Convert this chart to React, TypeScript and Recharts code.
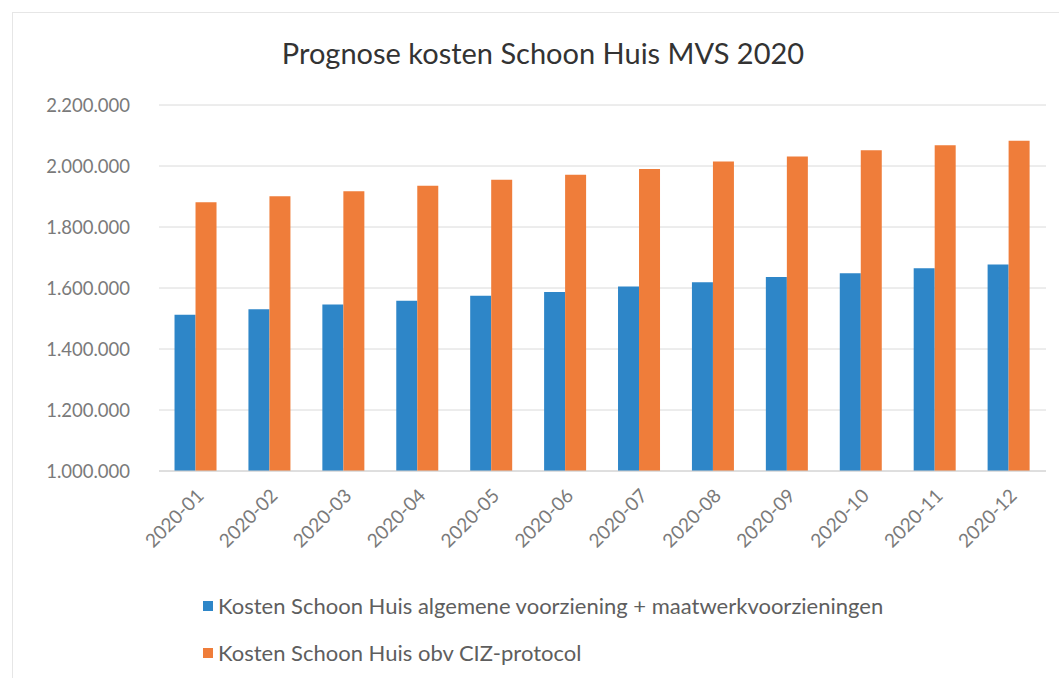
import React from "react";
import { BarChart, Bar, XAxis, YAxis, CartesianGrid, Legend } from "recharts";

const months = [
  "2020-01", "2020-02", "2020-03", "2020-04", "2020-05", "2020-06",
  "2020-07", "2020-08", "2020-09", "2020-10", "2020-11", "2020-12",
];
const algemeen = [
  1512000, 1530000, 1546000, 1558000, 1575000, 1587000,
  1605000, 1619000, 1636000, 1648000, 1665000, 1677000,
];
const ciz = [
  1881000, 1901000, 1917000, 1935000, 1955000, 1971000,
  1990000, 2015000, 2031000, 2052000, 2068000, 2083000,
];
const yTicks = [1000000, 1200000, 1400000, 1600000, 1800000, 2000000, 2200000];

const SERIES_A = "Kosten Schoon Huis algemene voorziening + maatwerkvoorzieningen";
const SERIES_B = "Kosten Schoon Huis obv CIZ-protocol";

const data = months.map((m, i) => ({ month: m, a: algemeen[i], b: ciz[i] }));

const FONT = "Lato, 'Open Sans', sans-serif";
const fmt = (v: number) => v.toLocaleString("nl-NL");

function MonthTick(props: any) {
  const { x, y, payload } = props;
  const tx = x + 9;
  const ty = y + 18;
  return (
    <text
      x={tx}
      y={ty}
      transform={`rotate(-45 ${tx} ${ty})`}
      textAnchor="end"
      fill="#7a7a7a"
      fontSize={19}
      fontFamily={FONT}
    >
      {payload.value}
    </text>
  );
}

function LegendBox(props: any) {
  const items = props.payload || [];
  return (
    <div style={{ fontFamily: FONT, fontSize: 22, color: "#5e5e5e" }}>
      {items.map((it: any) => (
        <div key={it.value} style={{ display: "flex", alignItems: "center", height: 47 }}>
          <span style={{ width: 10, height: 10, background: it.color, marginRight: 5 }} />
          <span>{it.value}</span>
        </div>
      ))}
    </div>
  );
}

export default function App() {
  return (
    <div style={{ position: "absolute", left: 0, top: 0, width: 1059, height: 678, background: "#fff" }}>
      <div
        style={{
          position: "absolute", left: 12, top: 12, width: 1047, height: 666,
          borderLeft: "1px solid #e6e6e6", borderTop: "1px solid #e6e6e6",
        }}
      />
      <div
        style={{
          position: "absolute", left: 0, top: 35, width: 1086, textAlign: "center",
          fontFamily: FONT, fontSize: 29, color: "#333",
        }}
      >
        Prognose kosten Schoon Huis MVS 2020
      </div>
      <BarChart
        width={1059}
        height={678}
        data={data}
        margin={{ top: 105, right: 13, left: 0, bottom: 107 }}
        barCategoryGap="21%"
        barGap={0}
        style={{ position: "absolute", left: 0, top: 0 }}
      >
        <CartesianGrid vertical={false} stroke="#dadada" />
        <XAxis
          dataKey="month"
          height={100}
          interval={0}
          tick={<MonthTick />}
          tickLine={false}
          axisLine={{ stroke: "#d0d0d0" }}
        />
        <YAxis
          width={159}
          domain={[1000000, 2200000]}
          ticks={yTicks}
          tickFormatter={fmt}
          axisLine={false}
          tickLine={false}
          tickSize={0}
          tickMargin={29}
          tick={{ fill: "#7a7a7a", fontSize: 18.5, fontFamily: FONT }}
        />
        <Legend
          layout="vertical"
          align="center"
          verticalAlign="middle"
          wrapperStyle={{ left: 203, top: 582, width: 800 }}
          content={<LegendBox />}
        />
        <Bar dataKey="a" name={SERIES_A} fill="#2E86C8" isAnimationActive={false} />
        <Bar dataKey="b" name={SERIES_B} fill="#EF7D3A" isAnimationActive={false} />
      </BarChart>
    </div>
  );
}
